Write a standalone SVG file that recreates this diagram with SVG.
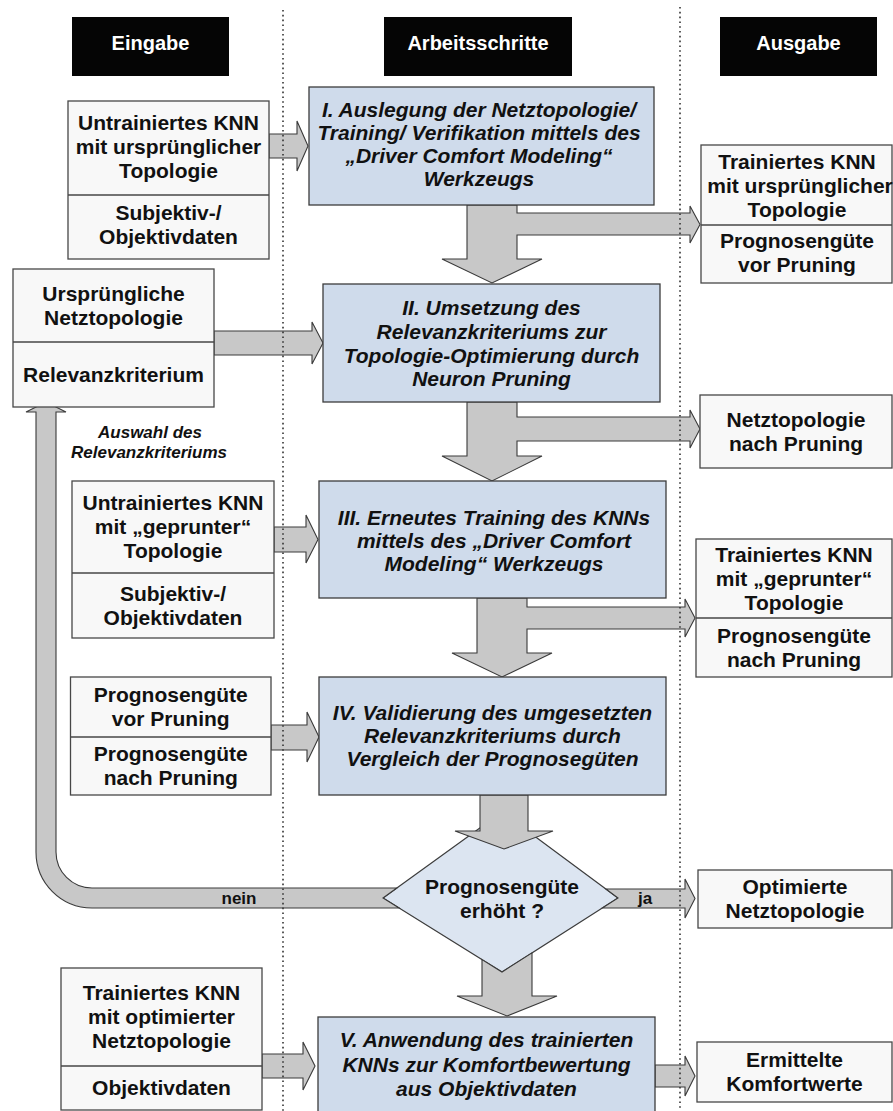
<svg xmlns="http://www.w3.org/2000/svg" width="893" height="1111" viewBox="0 0 893 1111">
  <style>
    .hdr { fill: #050505; }
    .hdrt { fill: #ffffff; font-family: "Liberation Sans", Arial, sans-serif; font-weight: bold; font-size: 20px; text-anchor: middle; }
    .box { fill: #f8f8f8; stroke: #474747; stroke-width: 1.3; }
    .div { stroke: #474747; stroke-width: 1.3; }
    .step { fill: #cfdbeb; stroke: #3c3c3c; stroke-width: 1.3; }
    .dia { fill: #dce5f1; stroke: #3c3c3c; stroke-width: 1.2; }
    .arrow { fill: #c8c8c8; stroke: #3a3a3a; stroke-width: 1.1; stroke-linejoin: miter; }
    .t { font-family: "Liberation Sans", Arial, sans-serif; font-weight: bold; font-size: 21px; text-anchor: middle; fill: #111; }
    .ti { font-family: "Liberation Sans", Arial, sans-serif; font-weight: bold; font-style: italic; font-size: 21px; text-anchor: middle; fill: #111; }
    .lbl { font-family: "Liberation Sans", Arial, sans-serif; font-weight: bold; font-size: 17px; text-anchor: middle; fill: #111; }
    .lbli { font-family: "Liberation Sans", Arial, sans-serif; font-weight: bold; font-style: italic; font-size: 17px; text-anchor: middle; fill: #111; }
    .lane { stroke: #333; stroke-width: 1.6; stroke-dasharray: 1.6 3.2; fill: none; }
  </style>

  <rect width="893" height="1111" fill="#ffffff"/>

  <!-- column headers -->
  <g id="hdr-eingabe">
    <rect class="hdr" x="72" y="17" width="157" height="59"/>
    <text class="hdrt" x="150.5" y="50">Eingabe</text>
  </g>
  <g id="hdr-arbeitsschritte">
    <rect class="hdr" x="384" y="17" width="188" height="59"/>
    <text class="hdrt" x="478" y="50">Arbeitsschritte</text>
  </g>
  <g id="hdr-ausgabe">
    <rect class="hdr" x="720" y="17" width="157" height="59"/>
    <text class="hdrt" x="798.5" y="50">Ausgabe</text>
  </g>

  <!-- decision diamond (drawn before the connectors so the incoming head lies on top) -->
  <g id="decision">
    <polygon class="dia" points="383,898 502,812 618,898 502,972"/>
    <text class="t" x="502" y="894">Prognosengüte</text>
    <text class="t" x="502" y="918">erhöht ?</text>
  </g>

  <!-- connectors (block arrows) -->
  <g id="connectors">
    <!-- inputs into the steps -->
    <path class="arrow" d="M269,134 H297 V121 L308,146 L297,171 V158 H269 Z"/>
    <path class="arrow" d="M214,331 H312 V322 L323,343 L312,364 V355 H214 Z"/>
    <path class="arrow" d="M274,527 H306 V515 L318,539.5 L306,563 V552 H274 Z"/>
    <path class="arrow" d="M271,725 H307 V712 L319,737 L307,762 V750 H271 Z"/>
    <path class="arrow" d="M262,1054 H303 V1042 L315,1066 L303,1090 V1078 H262 Z"/>
    <!-- step I: down to II, branch to output -->
    <path class="arrow" d="M467,205 V259 H442 L492,283 L542,259 H517 V235 H690 V243 L700,224.5 L690,206 V213 H517 V205 Z"/>
    <!-- step II: down to III, branch to output -->
    <path class="arrow" d="M467,402 V456 H442 L492,481 L542,456 H517 V441 H690 V448 L700,429 L690,410 V417 H517 V402 Z"/>
    <!-- step III: down to IV, branch to output -->
    <path class="arrow" d="M477,598 V653 H452 L502,677 L552,653 H527 V629 H685 V637 L695,618 L685,599 V607 H527 V598 Z"/>
    <!-- step IV down to decision -->
    <path class="arrow" d="M480,795 V831 H455 L504,849 L553,831 H528 V795 Z"/>
    <!-- loop back: nein (shaft ends on the diamond's left edges) -->
    <path class="arrow" d="M396.8,888 H92 A36,36 0 0 1 56,852 V412 H66 L46,402 L26,412 H36 V852 A56,56 0 0 0 92,908 H399.1 L383,898 Z"/>
    <!-- ja (shaft starts on the diamond's right edges) -->
    <path class="arrow" d="M605.9,889 H685 V879 L695,898.5 L685,918 V908 H602.3 L618,898 Z"/>
    <!-- decision down to step V (shaft starts on the diamond's lower edges) -->
    <path class="arrow" d="M482,959.6 L502,972 L532,952.9 V996 H557 L507,1016 L457,996 H482 Z"/>
    <!-- step V to result -->
    <path class="arrow" d="M655,1065 H685 V1056 L695,1076 L685,1096 V1087 H655 Z"/>
    <text class="lbl" x="239" y="904">nein</text>
    <text class="lbl" x="645" y="904">ja</text>
    <text class="lbli" x="150" y="438">Auswahl des</text>
    <text class="lbli" x="149" y="458">Relevanzkriteriums</text>
  </g>

  <!-- inputs -->
  <g id="in-1">
    <rect class="box" x="68" y="101" width="201" height="158"/>
    <line class="div" x1="68" y1="195" x2="269" y2="195"/>
    <text class="t" x="168.5" y="130">Untrainiertes KNN</text>
    <text class="t" x="168.5" y="154">mit ursprünglicher</text>
    <text class="t" x="168.5" y="178">Topologie</text>
    <text class="t" x="168.5" y="220">Subjektiv-/</text>
    <text class="t" x="168.5" y="244">Objektivdaten</text>
  </g>
  <g id="in-2">
    <rect class="box" x="13" y="269" width="201" height="138"/>
    <line class="div" x1="13" y1="342" x2="214" y2="342"/>
    <text class="t" x="113.5" y="301">Ursprüngliche</text>
    <text class="t" x="113.5" y="325">Netztopologie</text>
    <text class="t" x="113.5" y="382">Relevanzkriterium</text>
  </g>
  <g id="in-3">
    <rect class="box" x="72" y="481" width="202" height="157"/>
    <line class="div" x1="72" y1="573" x2="274" y2="573"/>
    <text class="t" x="173" y="510">Untrainiertes KNN</text>
    <text class="t" x="173" y="534">mit „geprunter“</text>
    <text class="t" x="173" y="558">Topologie</text>
    <text class="t" x="173" y="601">Subjektiv-/</text>
    <text class="t" x="173" y="625">Objektivdaten</text>
  </g>
  <g id="in-4">
    <rect class="box" x="70.5" y="677" width="200.5" height="118"/>
    <line class="div" x1="70.5" y1="737" x2="271" y2="737"/>
    <text class="t" x="170.75" y="702">Prognosengüte</text>
    <text class="t" x="170.75" y="726">vor Pruning</text>
    <text class="t" x="170.75" y="761">Prognosengüte</text>
    <text class="t" x="170.75" y="785">nach Pruning</text>
  </g>
  <g id="in-5">
    <rect class="box" x="61" y="968" width="201" height="142"/>
    <line class="div" x1="61" y1="1066" x2="262" y2="1066"/>
    <text class="t" x="161.5" y="1000">Trainiertes KNN</text>
    <text class="t" x="161.5" y="1024">mit optimierter</text>
    <text class="t" x="161.5" y="1048">Netztopologie</text>
    <text class="t" x="161.5" y="1095">Objektivdaten</text>
  </g>

  <!-- work steps -->
  <g id="step-1">
    <rect class="step" x="309" y="87" width="345" height="118"/>
    <text class="ti" x="479" y="117">I. Auslegung der Netztopologie/</text>
    <text class="ti" x="479" y="140">Training/ Verifikation mittels des</text>
    <text class="ti" x="479" y="163">„Driver Comfort Modeling“</text>
    <text class="ti" x="479" y="186">Werkzeugs</text>
  </g>
  <g id="step-2">
    <rect class="step" x="323" y="284" width="337" height="118"/>
    <text class="ti" x="491.5" y="315">II. Umsetzung des</text>
    <text class="ti" x="491.5" y="339">Relevanzkriteriums zur</text>
    <text class="ti" x="491.5" y="363">Topologie-Optimierung durch</text>
    <text class="ti" x="491.5" y="386">Neuron Pruning</text>
  </g>
  <g id="step-3">
    <rect class="step" x="319" y="481" width="347" height="117"/>
    <text class="ti" x="494" y="525">III. Erneutes Training des KNNs</text>
    <text class="ti" x="494" y="548">mittels des „Driver Comfort</text>
    <text class="ti" x="494" y="571">Modeling“ Werkzeugs</text>
  </g>
  <g id="step-4">
    <rect class="step" x="319" y="677" width="347" height="118"/>
    <text class="ti" x="492.5" y="720">IV. Validierung des umgesetzten</text>
    <text class="ti" x="492.5" y="743">Relevanzkriteriums durch</text>
    <text class="ti" x="492.5" y="766">Vergleich der Prognosegüten</text>
  </g>
  <g id="step-5">
    <rect class="step" x="318" y="1017" width="337" height="110"/>
    <text class="ti" x="486.5" y="1047">V. Anwendung des trainierten</text>
    <text class="ti" x="486.5" y="1072">KNNs zur Komfortbewertung</text>
    <text class="ti" x="486.5" y="1096">aus Objektivdaten</text>
  </g>

  <!-- outputs -->
  <g id="out-1">
    <rect class="box" x="701" y="145" width="191" height="138"/>
    <line class="div" x1="701" y1="225" x2="892" y2="225"/>
    <text class="t" x="797" y="169">Trainiertes KNN</text>
    <text class="t" x="800" y="193">mit ursprünglicher</text>
    <text class="t" x="797" y="217">Topologie</text>
    <text class="t" x="797" y="248">Prognosengüte</text>
    <text class="t" x="797" y="272">vor Pruning</text>
  </g>
  <g id="out-2">
    <rect class="box" x="700" y="395" width="192" height="73"/>
    <text class="t" x="796" y="427">Netztopologie</text>
    <text class="t" x="796" y="451">nach Pruning</text>
  </g>
  <g id="out-3">
    <rect class="box" x="696" y="539" width="196" height="138"/>
    <line class="div" x1="696" y1="618" x2="892" y2="618"/>
    <text class="t" x="794" y="562">Trainiertes KNN</text>
    <text class="t" x="794" y="586">mit „geprunter“</text>
    <text class="t" x="794" y="610">Topologie</text>
    <text class="t" x="794" y="643">Prognosengüte</text>
    <text class="t" x="794" y="667">nach Pruning</text>
  </g>
  <g id="out-4">
    <rect class="box" x="698" y="870" width="194" height="58"/>
    <text class="t" x="795" y="894">Optimierte</text>
    <text class="t" x="795" y="918">Netztopologie</text>
  </g>
  <g id="out-5">
    <rect class="box" x="697" y="1042" width="195" height="60"/>
    <text class="t" x="794.5" y="1067">Ermittelte</text>
    <text class="t" x="794.5" y="1091">Komfortwerte</text>
  </g>

  <!-- lane separators -->
  <g id="lanes">
    <line class="lane" x1="283" y1="10" x2="283" y2="1111"/>
    <line class="lane" x1="680" y1="7" x2="680" y2="1111"/>
  </g>
</svg>
